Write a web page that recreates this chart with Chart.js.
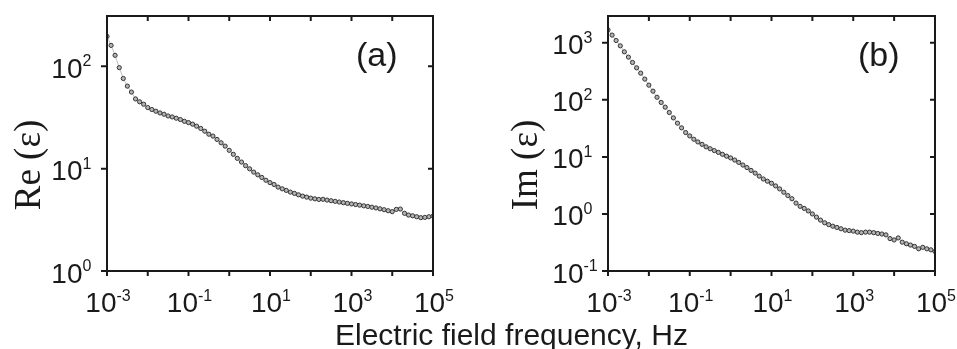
<!DOCTYPE html>
<html>
<head>
<meta charset="utf-8">
<script src="https://cdn.jsdelivr.net/npm/chart.js@4.4.1/dist/chart.umd.min.js"></script>
<style>
  html, body { margin: 0; padding: 0; background: #fff; overflow: hidden; }
  #wrap { position: relative; width: 957px; height: 349px; }
  canvas { position: absolute; top: 0; }
  #xtitle {
    position: absolute; left: 335px; top: 320px;
    font: 30px "Liberation Sans", Arial, sans-serif; line-height: 30px;
    color: #1a1a1a; white-space: nowrap;
  }
</style>
</head>
<body>
<div id="wrap">
  <canvas id="reChart" width="480" height="349" style="left:0"></canvas>
  <canvas id="imChart" width="477" height="349" style="left:480px"></canvas>
  <div id="xtitle">Electric field frequency, Hz</div>
</div>
<script>
// frequencies, Hz (10 points per decade)
var freq = [
  0.001, 0.00126, 0.00158, 0.002, 0.00251, 0.00316, 0.00398, 0.00501, 0.00631, 0.00794,
  0.01, 0.0126, 0.0158, 0.02, 0.0251, 0.0316, 0.0398, 0.0501, 0.0631, 0.0794,
  0.1, 0.126, 0.158, 0.2, 0.251, 0.316, 0.398, 0.501, 0.631, 0.794,
  1, 1.26, 1.58, 2, 2.51, 3.16, 3.98, 5.01, 6.31, 7.94,
  10, 12.6, 15.8, 20, 25.1, 31.6, 39.8, 50.1, 63.1, 79.4,
  100, 126, 158, 200, 251, 316, 398, 501, 631, 794,
  1000, 1260, 1580, 2000, 2510, 3160, 3980, 5010, 6310, 7940,
  10000, 12600, 15800, 20000, 25100, 31600, 39800, 50100, 63100, 79400,
  100000
];

// Re(eps)
var reEps = [
  196, 160, 128, 97, 76, 64, 56, 48, 45, 42.6,
  39.5, 37.8, 36.4, 35, 34, 32.7, 32, 31.1, 30.2, 29,
  28.2, 27.2, 26, 24.7, 23.2, 21.7, 20.8, 19.3, 17.9, 16.6,
  15.1, 13.8, 12.6, 11.6, 10.7, 9.96, 9.25, 8.7, 8.2, 7.7,
  7.3, 7.0, 6.6, 6.35, 6.13, 5.9, 5.73, 5.55, 5.39, 5.27,
  5.15, 5.07, 5.0, 5.02, 4.93, 4.86, 4.79, 4.72, 4.65, 4.58,
  4.52, 4.46, 4.4, 4.33, 4.27, 4.2, 4.13, 4.05, 3.97, 3.88,
  3.8, 4.0, 4.03, 3.66, 3.52, 3.46, 3.39, 3.32, 3.34, 3.39,
  3.44
];

// Im(eps)
var imEps = [
  1690, 1365, 1097, 885, 695, 561, 452, 364, 294, 231,
  181, 142, 111, 90, 74.5, 60, 48.3, 39, 32.3, 26.7,
  23.3, 20.4, 18.3, 16.6, 15.0, 13.9, 12.9, 12.0, 11.1, 10.3,
  9.6, 8.8, 8.0, 7.2, 6.5, 5.8, 5.2, 4.6, 4.1, 3.75,
  3.45, 3.1, 2.75, 2.4, 2.1, 1.85, 1.55, 1.36, 1.25, 1.13,
  1.0, 0.88, 0.78, 0.70, 0.65, 0.61, 0.58, 0.55, 0.52, 0.51,
  0.50, 0.48, 0.47, 0.48, 0.48, 0.47, 0.455, 0.445, 0.43, 0.37,
  0.35, 0.38, 0.32, 0.30, 0.285, 0.27, 0.245, 0.26, 0.245, 0.235,
  0.22
];

// tick decades (exponents) and which ones get a label
var xTickExps = [-3, -2, -1, 0, 1, 2, 3, 4, 5];
var xLabelExps = [-3, -1, 1, 3, 5];
var reTickExps = [0, 1, 2];
var imTickExps = [-1, 0, 1, 2, 3];

var ink = '#1a1a1a';
var bigFont = '28px "Liberation Sans", Arial, sans-serif';
var supFont = '16px "Liberation Sans", Arial, sans-serif';

function toPoints(ys) {
  return freq.map(function(f, i) { return { x: f, y: ys[i] }; });
}

// "10" with a raised exponent
function drawPow(ctx, e, x, y, mode) {
  ctx.font = bigFont;
  var wb = ctx.measureText('10').width;
  ctx.font = supFont;
  var s = String(e);
  var we = ctx.measureText(s).width;
  var x0 = mode === 'center' ? x - (wb + we) / 2 : x - wb;
  ctx.textAlign = 'left';
  ctx.textBaseline = 'alphabetic';
  ctx.font = bigFont;
  ctx.fillText('10', x0, y);
  ctx.font = supFont;
  ctx.fillText(s, x0 + wb, y - 11.5);
}

var framePlugin = {
  id: 'frame',
  afterDatasetsDraw: function(chart, args, o) {
    var ctx = chart.ctx, a = chart.chartArea;
    var xs = chart.scales.x, ys = chart.scales.y;
    ctx.save();
    ctx.strokeStyle = ink;
    ctx.fillStyle = ink;
    ctx.lineWidth = 2;
    ctx.strokeRect(a.left, a.top, a.right - a.left, a.bottom - a.top);

    // ticks: out on bottom/left, mirrored inward on top/right
    ctx.beginPath();
    xTickExps.forEach(function(e) {
      var px = xs.getPixelForValue(Math.pow(10, e));
      ctx.moveTo(px, a.bottom); ctx.lineTo(px, a.bottom + 5);
      ctx.moveTo(px, a.top); ctx.lineTo(px, a.top + 5);
    });
    o.yExps.forEach(function(e) {
      var py = ys.getPixelForValue(Math.pow(10, e));
      ctx.moveTo(a.left - 6, py); ctx.lineTo(a.left, py);
      ctx.moveTo(a.right - 5, py); ctx.lineTo(a.right, py);
    });
    ctx.stroke();

    xLabelExps.forEach(function(e) {
      var px = xs.getPixelForValue(Math.pow(10, e));
      drawPow(ctx, e, px + 1, a.bottom + 41, 'center');
    });
    o.yExps.forEach(function(e) {
      var py = ys.getPixelForValue(Math.pow(10, e));
      drawPow(ctx, e, a.left - 24.5, py + 11.5, 'left');
    });

    // axis title (serif, rotated)
    ctx.save();
    ctx.translate(o.titleX, 165);
    ctx.rotate(-Math.PI / 2);
    ctx.font = '37px "Liberation Serif", "Times New Roman", serif';
    ctx.textAlign = 'center';
    ctx.fillText(o.title, 0, 0);
    ctx.restore();

    // panel tag
    ctx.font = '34px "Liberation Sans", Arial, sans-serif';
    ctx.textAlign = 'left';
    ctx.fillText(o.tag, a.right - 77, 66);
    ctx.restore();
  }
};

function makeChart(id, ys, yMin, yMax, pad, frameOpts) {
  var ctx = document.getElementById(id).getContext('2d');
  return new Chart(ctx, {
    type: 'scatter',
    data: {
      datasets: [{
        data: toPoints(ys),
        showLine: true,
        borderColor: 'rgba(150,150,150,0.6)',
        borderWidth: 1,
        pointRadius: 2.1,
        pointBorderWidth: 1,
        pointBorderColor: '#333',
        pointBackgroundColor: '#b4b4b4'
      }]
    },
    options: {
      responsive: false,
      animation: false,
      events: [],
      layout: { padding: pad },
      plugins: {
        legend: { display: false },
        tooltip: { enabled: false },
        frame: frameOpts
      },
      scales: {
        x: { type: 'logarithmic', display: false, bounds: 'data', min: 1e-3, max: 1e5 },
        y: { type: 'logarithmic', display: false, bounds: 'data', min: yMin, max: yMax }
      }
    },
    plugins: [framePlugin]
  });
}

makeChart('reChart', reEps, 1, 310,
  { left: 107, right: 47, top: 16, bottom: 78 },
  { yExps: reTickExps, title: 'Re (\u03b5)', titleX: 40, tag: '(a)' });

makeChart('imChart', imEps, 0.1, 2950,
  { left: 128, right: 22, top: 16, bottom: 78 },
  { yExps: imTickExps, title: 'Im (\u03b5)', titleX: 57, tag: '(b)' });
</script>
</body>
</html>
